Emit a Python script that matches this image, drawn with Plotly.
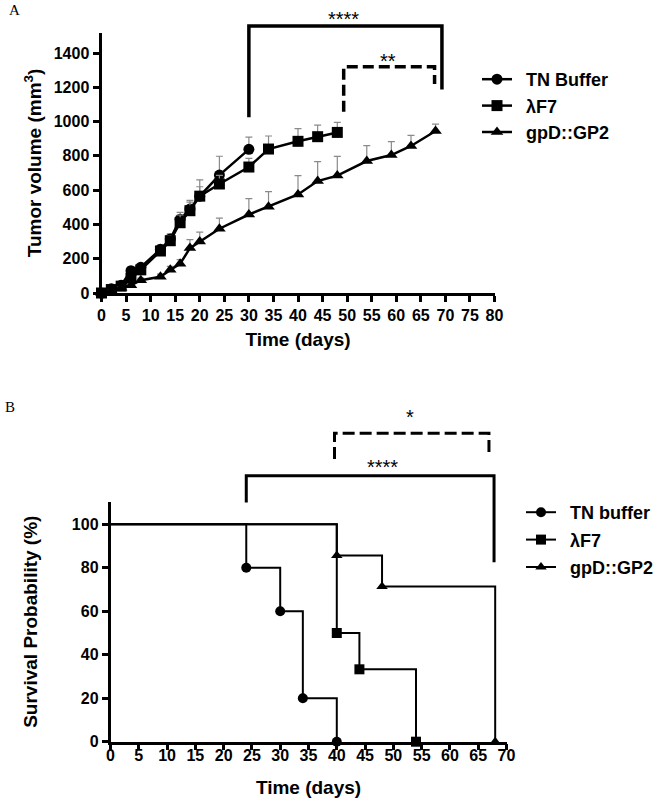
import plotly.graph_objects as go

# ---------------- Panel A: tumor volume ----------------
days_tn = [0, 2, 4, 6, 8, 12, 14, 16, 18, 20, 24, 30]
vol_tn = [0, 25, 45, 130, 150, 255, 315, 430, 490, 565, 688, 838]
err_tn = [0, 10, 12, 20, 20, 25, 30, 40, 50, 95, 110, 72]

days_f7 = [0, 2, 4, 6, 8, 12, 14, 16, 18, 20, 24, 30, 34, 40, 44, 48]
vol_f7 = [0, 20, 40, 85, 135, 245, 305, 410, 480, 565, 636, 735, 840, 885, 912, 937]
err_f7 = [0, 8, 10, 15, 20, 25, 30, 45, 50, 55, 50, 51, 76, 74, 68, 59]

days_gp = [0, 2, 4, 6, 8, 12, 14, 16, 18, 20, 24, 30, 34, 40, 44, 48, 54, 59, 63, 68]
vol_gp = [0, 15, 30, 45, 75, 95, 135, 170, 262, 300, 375, 458, 503, 575, 653, 685, 770, 805, 858, 945]
err_gp = [0, 5, 8, 10, 12, 15, 20, 25, 50, 55, 62, 93, 88, 110, 113, 112, 90, 78, 62, 40]

names_a = ["TN Buffer", "\u03bbF7", "gpD::GP2"]
yticks_a = [0, 200, 400, 600, 800, 1000, 1200, 1400]

# significance brackets (days, mm3)
brk_a_solid_x = [30, 30, 69.3, 69.3]
brk_a_solid_y = [1025, 1558, 1558, 1188]
brk_a_dash_x = [49.3, 49.3, 67.8, 67.8]
brk_a_dash_y = [1058, 1320, 1320, 1220]
stars_a_text = ["****", "**"]
stars_a_x = [49.2, 58.4]
stars_a_y = [1622, 1379]

# ---------------- Panel B: survival ----------------
surv_t_tn = [0, 24, 30, 34, 40]
surv_tn = [100, 80, 60, 20, 0]
surv_t_f7 = [0, 40, 44, 54]
surv_f7 = [100, 50, 33.3, 0]
surv_t_gp = [0, 40, 48, 68]
surv_gp = [100, 85.7, 71.4, 0]

names_b = ["TN buffer", "\u03bbF7", "gpD::GP2"]
yticks_b = [0, 20, 40, 60, 80, 100]

brk_b_solid_x = [24, 24, 67.8, 67.8]
brk_b_solid_y = [110, 122.3, 122.3, 82.5]
brk_b_dash_x = [39.6, 39.6, 66.9, 66.9]
brk_b_dash_y = [130, 141.9, 141.9, 131]
stars_b_text = ["****", "*"]
stars_b_x = [48.0, 53.0]
stars_b_y = [128.4, 151.0]

# ---------------- layout geometry ----------------
W, H = 662, 800
FONT = "Liberation Sans"
symbols = ["circle", "square", "triangle-up"]
GAP = "\u2002"  # small gap between legend symbol and its label


def pxx(p):
    return p / W


def pxy(p):
    return 1 - p / H


# Panel A plot area (pixels)
ax_l, ax_r, ay_b, ay_t = 101.5, 494.5, 293, 33
a_yrange = 1517
# Panel B plot area
bx_l, bx_r, by_b, by_t = 110.5, 506.5, 741.7, 501.7
b_yrange = 110.4

fig = go.Figure()

series_a = [(days_tn, vol_tn, err_tn), (days_f7, vol_f7, err_f7), (days_gp, vol_gp, err_gp)]
for (d, v, e), nm, sym in zip(series_a, names_a, symbols):
    fig.add_trace(go.Scatter(
        x=d, y=v, name=GAP + nm, mode="lines+markers",
        line=dict(color="black", width=2.5),
        marker=dict(symbol=sym, size=11, color="black"),
        error_y=dict(type="data", symmetric=False, array=e, arrayminus=[0] * len(e),
                     color="#8a8a8a", thickness=1.2, width=3.5),
        cliponaxis=False, xaxis="x", yaxis="y", legend="legend",
    ))

# brackets A (on an invisible overlay axis with identical scale extended upward)
fig.add_trace(go.Scatter(x=brk_a_solid_x, y=brk_a_solid_y, mode="lines",
                         line=dict(color="black", width=3.5), showlegend=False,
                         xaxis="x3", yaxis="y3"))
fig.add_trace(go.Scatter(x=brk_a_dash_x, y=brk_a_dash_y, mode="lines",
                         line=dict(color="black", width=3.5, dash="11px,5px"), showlegend=False,
                         xaxis="x3", yaxis="y3"))

series_b = [(surv_t_tn, surv_tn), (surv_t_f7, surv_f7), (surv_t_gp, surv_gp)]
for (t, s), nm, sym in zip(series_b, names_b, symbols):
    fig.add_trace(go.Scatter(x=t, y=s, mode="lines", line=dict(color="black", width=2, shape="hv"),
                             showlegend=False, xaxis="x2", yaxis="y2", cliponaxis=False))
    fig.add_trace(go.Scatter(x=t[1:], y=s[1:], mode="markers",
                             marker=dict(symbol=sym, size=10, color="black"),
                             showlegend=False, xaxis="x2", yaxis="y2", cliponaxis=False))
    # legend entry
    fig.add_trace(go.Scatter(x=[None], y=[None], mode="lines+markers", name=GAP + nm,
                             line=dict(color="black", width=2),
                             marker=dict(symbol=sym, size=10, color="black"),
                             xaxis="x2", yaxis="y2", legend="legend2", legendgroup=nm))

fig.add_trace(go.Scatter(x=brk_b_solid_x, y=brk_b_solid_y, mode="lines",
                         line=dict(color="black", width=3), showlegend=False,
                         xaxis="x4", yaxis="y4"))
fig.add_trace(go.Scatter(x=brk_b_dash_x, y=brk_b_dash_y, mode="lines",
                         line=dict(color="black", width=3, dash="12px,5px"), showlegend=False,
                         xaxis="x4", yaxis="y4"))

tickfont = dict(family=FONT, size=16, color="black", weight="bold")
titlefont = dict(family=FONT, size=19, color="black", weight="bold")
common = dict(showgrid=False, zeroline=False, showline=True, linecolor="black",
              ticks="outside", tickcolor="black", ticklen=6, tickfont=tickfont,
              automargin=False, fixedrange=True)

a_top_ext = a_yrange * ay_b / (ay_b - ay_t)
b_top_ext = b_yrange * (by_b - 395) / (by_b - by_t)

fig.update_layout(
    width=W, height=H, margin=dict(l=0, r=0, t=0, b=0),
    paper_bgcolor="white", plot_bgcolor="rgba(0,0,0,0)",
    font=dict(family=FONT, color="black"),
    xaxis=dict(domain=[pxx(ax_l), pxx(ax_r)], range=[0, 80], tick0=0, dtick=5,
               linewidth=3, tickwidth=3, anchor="y",
               title=dict(text="Time (days)", font=titlefont, standoff=10), **common),
    yaxis=dict(domain=[pxy(ay_b), pxy(ay_t)], range=[0, a_yrange], tickvals=yticks_a,
               linewidth=3, tickwidth=3, anchor="x",
               title=dict(text="Tumor volume (mm<sup>3</sup>)", font=titlefont, standoff=8), **common),
    xaxis2=dict(domain=[pxx(bx_l), pxx(bx_r)], range=[0, 70], tick0=0, dtick=5,
                linewidth=2.5, tickwidth=2.5, anchor="y2", ticklabelstandoff=-9,
                title=dict(text="Time (days)", font=titlefont, standoff=19), **common),
    yaxis2=dict(domain=[pxy(by_b), pxy(by_t)], range=[0, b_yrange], tickvals=yticks_b,
                linewidth=2.5, tickwidth=2.5, anchor="x2",
                title=dict(text="Survival Probability (%)", font=titlefont, standoff=30), **common),
    xaxis3=dict(domain=[pxx(ax_l), pxx(ax_r)], range=[0, 80], visible=False, anchor="y3", fixedrange=True),
    yaxis3=dict(domain=[pxy(ay_b), 1.0], range=[0, a_top_ext], visible=False, anchor="x3", fixedrange=True),
    xaxis4=dict(domain=[pxx(bx_l), pxx(bx_r)], range=[0, 70], visible=False, anchor="y4", fixedrange=True),
    yaxis4=dict(domain=[pxy(by_b), pxy(395)], range=[0, b_top_ext], visible=False, anchor="x4", fixedrange=True),
    legend=dict(x=pxx(477), y=pxy(61), xanchor="left", yanchor="top",
                font=dict(family=FONT, size=18, color="black", weight="bold"),
                bgcolor="rgba(0,0,0,0)", itemwidth=30, tracegroupgap=0),
    legend2=dict(x=pxx(521), y=pxy(494), xanchor="left", yanchor="top",
                 font=dict(family=FONT, size=18, color="black", weight="bold"),
                 bgcolor="rgba(0,0,0,0)", itemwidth=30, traceorder="grouped", tracegroupgap=1),
    showlegend=True,
)

annots = []
for txt, x, y in zip(stars_a_text, stars_a_x, stars_a_y):
    annots.append(dict(text=txt, x=x, y=y, xref="x3", yref="y3", showarrow=False,
                       yshift=-4, font=dict(family=FONT, size=20, color="black")))
for txt, x, y in zip(stars_b_text, stars_b_x, stars_b_y):
    annots.append(dict(text=txt, x=x, y=y, xref="x4", yref="y4", showarrow=False,
                       yshift=-4, font=dict(family=FONT, size=20, color="black")))
annots.append(dict(text="A", x=pxx(7), y=pxy(0), xref="paper", yref="paper", xanchor="left",
                   yanchor="top", showarrow=False,
                   font=dict(family="Liberation Serif", size=15, color="black")))
annots.append(dict(text="B", x=pxx(3), y=pxy(397), xref="paper", yref="paper", xanchor="left",
                   yanchor="top", showarrow=False,
                   font=dict(family="Liberation Serif", size=15, color="black")))
fig.update_layout(annotations=annots)

fig.write_html("out.html", config={"displayModeBar": False},
               post_script="document.body.style.margin='0';document.body.style.overflow='hidden';")
